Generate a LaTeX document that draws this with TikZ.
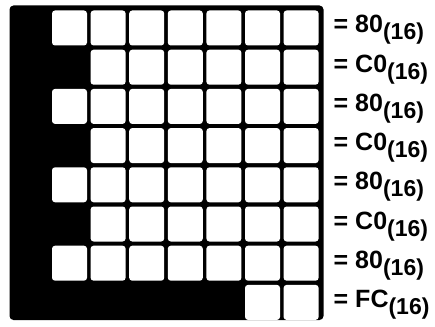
\documentclass[tikz,border=0pt]{standalone}
\usepackage{fontspec}
\setmainfont{Liberation Sans}
\begin{document}
\begin{tikzpicture}[x=1pt,y=-1pt,
  frame/.style={fill=black,rounded corners=4pt},
  cell/.style={fill=white,rounded corners=3pt},
  lbl/.style={anchor=base west,inner sep=0pt,font=\bfseries\fontsize{25}{25}\selectfont}]
\useasboundingbox (0,0) rectangle (435,326);
\fill[frame] (9.5,5.5) rectangle (323.5,320);
\foreach \r/\b/\t in {0/1/80,1/2/C0,2/1/80,3/2/C0,4/1/80,5/2/C0,6/1/80,7/6/FC} {
  \foreach \c in {\b,...,7} {
    \fill[cell] ({52+38.6*(\c-1)},{10.5+39.2*\r}) rectangle ++(35,35);
  }
  \node[lbl] (l\r) at (333.5,{33+39.2*\r}) {= \t\raisebox{-7pt}{\fontsize{23}{23}\selectfont(16)}};
}
\end{tikzpicture}
\end{document}
